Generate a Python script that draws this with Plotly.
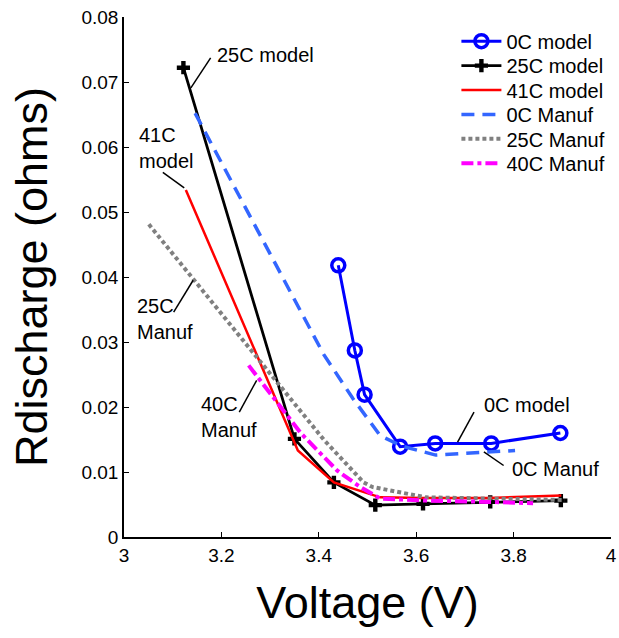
import plotly.graph_objects as go

# ---------------- data ----------------
v_0c_model = [3.440, 3.474, 3.494, 3.567, 3.639, 3.754, 3.896]
r_0c_model = [0.0418, 0.0287, 0.0219, 0.0139, 0.0144, 0.0144, 0.0160]

v_25c_model = [3.122, 3.350, 3.431, 3.516, 3.614, 3.752, 3.897]
r_25c_model = [0.0722, 0.0151, 0.0084, 0.0049, 0.0051, 0.0054, 0.0056]

v_41c_model = [3.127, 3.357, 3.431, 3.526, 3.613, 3.749, 3.898]
r_41c_model = [0.0534, 0.0133, 0.0084, 0.0061, 0.0060, 0.0060, 0.0064]

v_0c_manuf = [3.146, 3.410, 3.470, 3.526, 3.570, 3.640, 3.730, 3.803]
r_0c_manuf = [0.0652, 0.0281, 0.0213, 0.0156, 0.0140, 0.0126, 0.0130, 0.0133]

v_25c_manuf = [3.051, 3.330, 3.411, 3.492, 3.510, 3.620, 3.905]
r_25c_manuf = [0.0481, 0.0222, 0.0149, 0.0084, 0.0077, 0.0061, 0.0057]

v_40c_manuf = [3.256, 3.364, 3.438, 3.485, 3.526, 3.620, 3.750, 3.840]
r_40c_manuf = [0.0264, 0.0159, 0.0102, 0.0077, 0.0059, 0.0056, 0.0054, 0.0052]

series_names = ["0C model", "25C model", "41C model", "0C Manuf", "25C Manuf", "40C Manuf"]

# label texts: (text, x, y)
label_texts = [
    ("25C model", 3.186, 0.0742),
    ("41C<br>model", 3.0258, 0.0599),
    ("25C<br>Manuf", 3.0223, 0.0336),
    ("40C<br>Manuf", 3.1538, 0.0184),
    ("0C model", 3.7357, 0.0203),
    ("0C Manuf", 3.7931, 0.0105),
]
# leader lines: (x0, y0, x1, y1)
leaders = [
    (3.1779, 0.0737, 3.1373, 0.0691),
    (3.0797, 0.0561, 3.1237, 0.0537),
    (3.1020, 0.0346, 3.1420, 0.0395),
    (3.2367, 0.0192, 3.2724, 0.0241),
    (3.7187, 0.0192, 3.6850, 0.0146),
    (3.7795, 0.0110, 3.7390, 0.0131),
]

FONT = "Liberation Sans, Arial, sans-serif"

fig = go.Figure()

styles = [
    dict(x=v_0c_model, y=r_0c_model, mode="lines+markers",
         line=dict(color="#0000FF", width=3),
         marker=dict(symbol="circle-open", size=13, color="#0000FF",
                     line=dict(width=3.5, color="#0000FF"))),
    dict(x=v_25c_model, y=r_25c_model, mode="lines+markers",
         line=dict(color="#000000", width=2.8),
         marker=dict(symbol="cross", size=11, color="#000000")),
    dict(x=v_41c_model, y=r_41c_model, mode="lines",
         line=dict(color="#FF0000", width=2.5)),
    dict(x=v_0c_manuf, y=r_0c_manuf, mode="lines",
         line=dict(color="#3366FF", width=3.5, dash="13px,8px")),
    dict(x=v_25c_manuf, y=r_25c_manuf, mode="lines",
         line=dict(color="#808080", width=4, dash="4px,3px")),
    dict(x=v_40c_manuf, y=r_40c_manuf, mode="lines",
         line=dict(color="#FF00FF", width=4, dash="12px,4px,4px,4px")),
]

legend_keys = ["legend", "legend2", "legend3", "legend4", "legend5", "legend6"]
for name, st, lk in zip(series_names, styles, legend_keys):
    fig.add_trace(go.Scatter(name=name, legend=lk, **st))

for x0, y0, x1, y1 in leaders:
    fig.add_shape(type="line", xref="x", yref="y", x0=x0, y0=y0, x1=x1, y1=y1,
                  line=dict(color="black", width=1.5))
for text, tx, ty in label_texts:
    fig.add_annotation(x=tx, y=ty, xref="x", yref="y", text=text, showarrow=False,
                       xanchor="left", yanchor="middle", align="left",
                       font=dict(family=FONT, size=20, color="black"))

W, H = 619, 638
ml, mr, mt, mb = 124, 2, 17, 101
pw, ph = W - ml - mr, H - mt - mb

layout_legends = {}
row_px = [41.2, 65.6, 90.0, 114.4, 138.8, 163.2]
for lk, ypx in zip(legend_keys, row_px):
    layout_legends[lk] = dict(
        x=(460.5 - ml) / pw, y=(H - mb - ypx) / ph, xanchor="left", yanchor="middle",
        bgcolor="rgba(0,0,0,0)", borderwidth=0, itemwidth=40,
        font=dict(family=FONT, size=20, color="black"),
    )

fig.update_layout(
    width=W, height=H,
    margin=dict(l=ml, r=mr, t=mt, b=mb),
    paper_bgcolor="white", plot_bgcolor="white",
    font=dict(family=FONT, color="black"),
    showlegend=True,
    **layout_legends,
)

fig.update_xaxes(
    range=[3, 4], dtick=0.2, tick0=3, showgrid=False, zeroline=False,
    showline=True, linecolor="black", linewidth=1.5, mirror=False,
    ticks="inside", ticklen=5, tickcolor="black", tickwidth=1,
    ticklabeloverflow="allow",
    tickfont=dict(family=FONT, size=19, color="black"),
    title=dict(text="Voltage (V)", font=dict(family=FONT, size=45, color="black"), standoff=22),
)
fig.update_yaxes(
    range=[0, 0.08], dtick=0.01, tick0=0, showgrid=False, zeroline=False,
    showline=True, linecolor="black", linewidth=1.5, mirror=False,
    ticks="inside", ticklen=5, tickcolor="black", tickwidth=1,
    tickfont=dict(family=FONT, size=19, color="black"),
    title=dict(text="Rdischarge (ohms)", font=dict(family=FONT, size=45, color="black"), standoff=20),
)

fig.write_html("out.html")
